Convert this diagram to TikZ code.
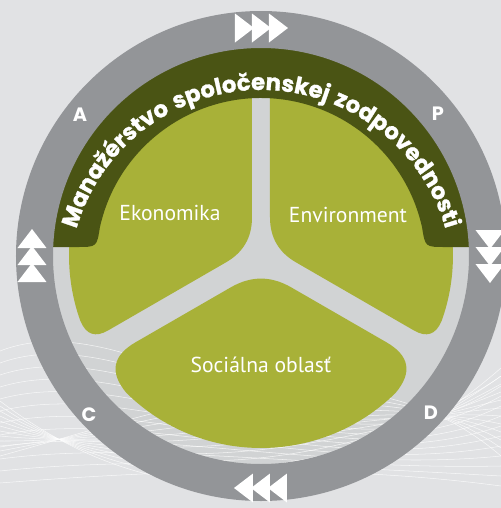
\documentclass[tikz,border=0pt]{standalone}
\usepackage{fontspec}
\setmainfont{PT Sans}
\newfontfamily\poppins{Poppins}
\newfontfamily\poppinsarc{Poppins}[LetterSpace=-3,WordSpace=1.6,BoldFeatures={FakeBold=1.2}]
\usepackage{tikz}
\usetikzlibrary{calc,decorations.text}

\definecolor{fond}{RGB}{225,226,228}
\definecolor{anneau}{RGB}{147,149,152}
\definecolor{interstice}{RGB}{209,211,212}
\definecolor{bande}{RGB}{74,84,20}
\definecolor{vert}{RGB}{168,177,56}

\tikzset{
  lobe/.style={fill=vert},
  titre/.style={text=white,font=\fontsize{12.3}{14}\selectfont},
  lettre/.style={text=white,font=\poppins\bfseries\fontsize{11}{12}\selectfont},
  fleche/.style={fill=white},
  vague/.style={draw=white,opacity=.75,line width=.3pt}
}

\begin{document}
\begin{tikzpicture}[x=0.02cm,y=0.02cm]
\useasboundingbox (-261,-252) rectangle (240,256);
% fond et interieur
\fill[fond] (-261,-252) rectangle (240,256);
\fill[interstice] (0,0) circle [radius=210];
\foreach \k in {0,...,11}
  \draw[vague] (-261,-95-\k*12) .. controls (-120,-40-\k*16) and (60,-250+\k*4) .. (240,-120-\k*10);
\foreach \k in {0,...,11}
  \draw[vague] (-261,-200+\k*5) .. controls (-80,-150-\k*12) and (100,-80-\k*14) .. (240,-200+\k*8);

% les trois lobes
\fill[lobe] (-9,38.66) -- (-9,191.8) arc[start angle=92.7,end angle=199.8,radius=192]
  .. controls (-174.8,-78.7) and (-165.6,-81.8) .. (-152.85,-74.4) -- (-35,-6.34)
  .. controls (-17.6,3.71) and (-9,18.56) .. (-9,38.66) -- cycle;
\fill[lobe] (9,38.66) -- (9,191.8) arc[start angle=87.3,end angle=-19.8,radius=192]
  .. controls (174.8,-78.7) and (165.6,-81.8) .. (152.85,-74.4) -- (35,-6.34)
  .. controls (17.6,3.71) and (9,18.56) .. (9,38.66) -- cycle;
\fill[lobe] (30.3,-31.4) .. controls (10,-19.65) and (-10,-19.65) .. (-30.3,-31.4) -- (-125.3,-86.2)
  .. controls (-148.5,-99.6) and (-151.8,-116.3) .. (225.5:192) arc[start angle=225.5,end angle=314.5,radius=192]
  .. controls (151.8,-116.3) and (148.5,-99.6) .. (125.3,-86.2) -- cycle;

% bande du titre
\fill[bande] (211.8,9) arc[start angle=2.43,end angle=177.57,radius=212] -- (-184,9)
  .. controls (-164.2,9) .. (-161.1,28.7) arc[start angle=167.5,end angle=12.5,radius=165]
  .. controls (164.2,9) .. (184,9) -- cycle;
\path[decorate,decoration={text along path,text align=center,text color=white,
  text={|\poppinsarc\bfseries\fontsize{13}{13}\selectfont|Manažérstvo spoločenskej zodpovednosti}}]
  (0,-26) ++(163:192) arc[start angle=163,end angle=17,radius=192];

% anneau PDCA
\fill[anneau,even odd rule] (0,0) circle [radius=245] (0,0) circle [radius=208];
\foreach \cx/\cy/\ang in {0/228/0, 229/0/-90, 0/-232/180, -229/0/90}
  \foreach \i in {0,1,2}
    \fill[fleche,shift={(\cx,\cy)},rotate=\ang] (\i*17-26,14.5) -- (\i*17-26,-14.5) -- (\i*17-7,0) -- cycle;

\node[lettre] (A) at (-181,141) {A};
\node[lettre] (P) at (177,142) {P};
\node[lettre] (C) at (-172,-159) {C};
\node[lettre] (D) at (170,-157) {D};

\node[titre] (eko) at (-91,43) {Ekonomika};
\node[titre] (env) at (87,41) {Environment};
\node[titre] (soc) at (0,-109) {Sociálna oblasť};
\end{tikzpicture}
\end{document}
